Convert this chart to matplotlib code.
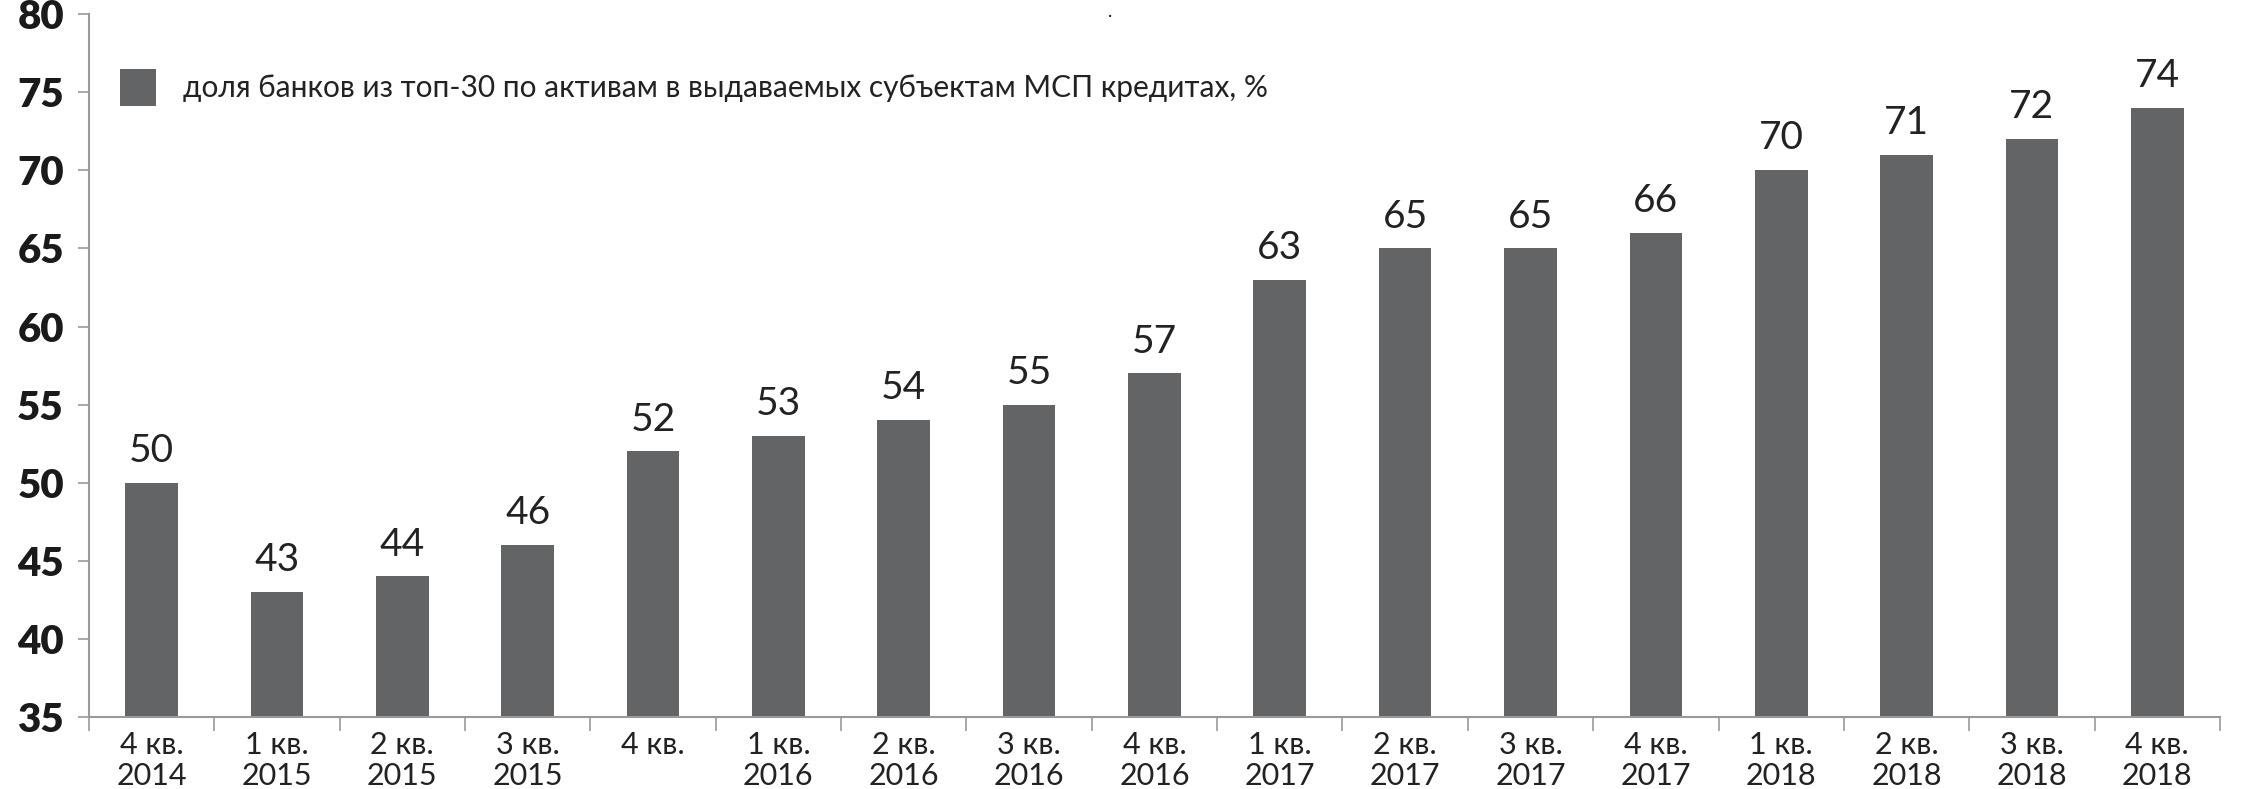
import matplotlib.pyplot as plt
import numpy as np

quarters = ["4 кв.\n2014", "1 кв.\n2015", "2 кв.\n2015", "3 кв.\n2015", "4 кв.",
            "1 кв.\n2016", "2 кв.\n2016", "3 кв.\n2016", "4 кв.\n2016",
            "1 кв.\n2017", "2 кв.\n2017", "3 кв.\n2017", "4 кв.\n2017",
            "1 кв.\n2018", "2 кв.\n2018", "3 кв.\n2018", "4 кв.\n2018"]
share = [50, 43, 44, 46, 52, 53, 54, 55, 57, 63, 65, 65, 66, 70, 71, 72, 74]
legend_label = "доля банков из топ-30 по активам в выдаваемых субъектам МСП кредитах, %"

bar_color = "#636466"
axis_color = "#9a9a9a"
font = ["Lato", "DejaVu Sans"]

fig = plt.figure(figsize=(22.41, 7.89), dpi=100)
ax = fig.add_axes([0.0397, 0.0913, 0.9509, 0.8907])

x = np.arange(len(share))
bars = ax.bar(x, [v - 35 for v in share], bottom=35, width=0.42, color=bar_color,
              label=legend_label)

for xi, v in zip(x, share):
    ax.annotate(str(v), (xi, v), xytext=(0, 10), textcoords="offset points",
                ha="center", va="bottom", fontsize=28, family=font,
                color="#222222")

ax.set_xlim(-0.5, len(share) - 0.5)
ax.set_ylim(35, 80)
ax.set_yticks(range(35, 81, 5))
ax.set_yticklabels([str(t) for t in range(35, 81, 5)], fontsize=29,
                   fontweight="heavy", family=font, color="#1a1a1a")

ax.set_xticks(x)
ax.set_xticklabels(quarters, fontsize=22, family=font, color="#222222",
                   linespacing=1.15)
ax.tick_params(axis="x", which="major", length=0, pad=10)
ax.set_xticks(np.arange(-0.5, len(share), 1), minor=True)
ax.tick_params(axis="x", which="minor", length=10, color=axis_color, width=1.2)
ax.tick_params(axis="y", length=8, color=axis_color, width=1.2, pad=10)

for s in ["top", "right"]:
    ax.spines[s].set_visible(False)
for s in ["left", "bottom"]:
    ax.spines[s].set_color(axis_color)
    ax.spines[s].set_linewidth(1.5)

leg = ax.legend(loc="upper left", bbox_to_anchor=(0.002, 0.96), frameon=False,
                handlelength=1.2, handleheight=1.5, handletextpad=0.9,
                prop={"family": font, "size": 21.5})
for t in leg.get_texts():
    t.set_color("#222222")

fig.text(0.4955, 0.985, ".", fontsize=14, ha="center", va="center", color="#222222")

fig.savefig("out.png", dpi=100)
